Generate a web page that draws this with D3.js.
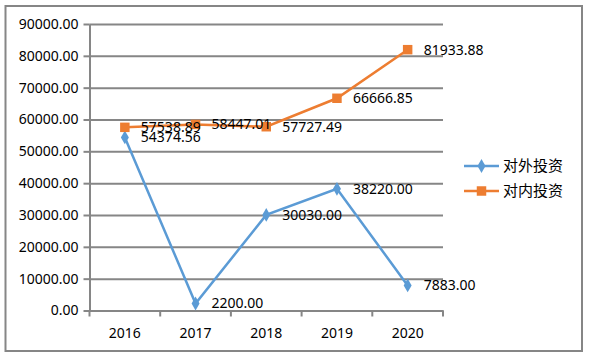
<!DOCTYPE html>
<html>
<head>
<meta charset="utf-8">
<script src="https://cdn.jsdelivr.net/npm/d3@7"></script>
<style>
  html, body { margin: 0; padding: 0; background: #fff; }
  svg { display: block; }
  text { font-family: "Noto Sans", "Liberation Sans", sans-serif; fill: #000; }
  .cjk { font-family: "Noto Sans CJK SC", sans-serif; }
</style>
</head>
<body>
<div id="chart"></div>
<script>
'use strict';

// ---- data ----
var years = ['2016', '2017', '2018', '2019', '2020'];
var outward = [54374.56, 2200.00, 30030.00, 38220.00, 7883.00];   // 对外投资
var inward  = [57538.89, 58447.01, 57727.49, 66666.85, 81933.88]; // 对内投资
var seriesNames = ['对外投资', '对内投资'];
var yTicks = [0, 10000, 20000, 30000, 40000, 50000, 60000, 70000, 80000, 90000];

var W = 589, H = 362;
var margin = { top: 24, right: 146, bottom: 51.5, left: 89.5 };
var blue = '#5b9bd5', orange = '#ed7d31', grid = '#868686';

var svg = d3.select('#chart').append('svg')
    .attr('width', W)
    .attr('height', H);

// outer frame
svg.append('rect')
    .attr('x', 5.5).attr('y', 6)
    .attr('width', 576.5).attr('height', 345)
    .attr('fill', 'none')
    .attr('stroke', grid)
    .attr('stroke-width', 2);

// title, almost entirely above the top edge
svg.append('text')
    .attr('class', 'cjk')
    .attr('x', 295).attr('y', -2)
    .attr('text-anchor', 'middle')
    .style('font-size', '18px')
    .text('2016-2020年对外投资与对内投资情况');

var x = d3.scaleBand()
    .domain(years)
    .range([margin.left, W - margin.right]);

var y = d3.scaleLinear()
    .domain([0, 90000])
    .range([H - margin.bottom, margin.top]);

// gridlines + y axis
var yAxis = svg.append('g')
    .attr('transform', 'translate(' + margin.left + ',0)')
    .call(d3.axisLeft(y)
        .tickValues(yTicks)
        .tickSize(6)
        .tickSizeOuter(0)
        .tickPadding(5)
        .tickFormat(function (d) { return d3.format('.2f')(d); }));
yAxis.select('.domain').attr('stroke', grid).attr('stroke-width', 2);
yAxis.selectAll('.tick line').attr('stroke', grid).attr('stroke-width', 2);
yAxis.selectAll('.tick text').style('font-size', '14px').attr('fill', '#000');
yAxis.selectAll('.tick').append('line')
    .attr('x1', 0)
    .attr('x2', W - margin.right - margin.left)
    .attr('stroke', grid)
    .attr('stroke-width', 2);

// x axis
var xAxis = svg.append('g')
    .attr('transform', 'translate(0,' + (H - margin.bottom) + ')')
    .call(d3.axisBottom(x).tickSize(0).tickPadding(18));
xAxis.select('.domain').attr('stroke', grid).attr('stroke-width', 2);
xAxis.selectAll('.tick text').style('font-size', '14px').attr('fill', '#000');
// ticks sit on the band boundaries
var bounds = years.map(function (d) { return x(d); }).concat([x.range()[1]]);
xAxis.selectAll('.bound').data(bounds).enter().append('line')
    .attr('x1', function (d) { return d; })
    .attr('x2', function (d) { return d; })
    .attr('y1', 0).attr('y2', 6)
    .attr('stroke', grid)
    .attr('stroke-width', 2);

var cx = function (d, i) { return x(years[i]) + x.bandwidth() / 2; };
var line = d3.line()
    .x(function (d, i) { return cx(d, i); })
    .y(function (d) { return y(d); });

function drawSeries(values, color, marker) {
    var g = svg.append('g');
    g.append('path')
        .datum(values)
        .attr('d', line)
        .attr('fill', 'none')
        .attr('stroke', color)
        .attr('stroke-width', 2.5);
    g.selectAll('.m').data(values).enter().append('path')
        .attr('transform', function (d, i) { return 'translate(' + cx(d, i) + ',' + y(d) + ')'; })
        .attr('d', marker)
        .attr('fill', color);
    g.selectAll('.lbl').data(values).enter().append('text')
        .attr('x', function (d, i) { return cx(d, i) + 16; })
        .attr('y', function (d) { return y(d); })
        .attr('dy', '0.35em')
        .style('font-size', '14px')
        .text(function (d) { return d3.format('.2f')(d); });
}

var diamond = d3.symbol().type(d3.symbolDiamond).size(55)();
var square = d3.symbol().type(d3.symbolSquare).size(90)();

drawSeries(outward, blue, diamond);
drawSeries(inward, orange, square);

// legend
var legend = svg.append('g').attr('transform', 'translate(464,0)');
var legendItems = [
    { name: seriesNames[0], color: blue, marker: diamond, y: 166 },
    { name: seriesNames[1], color: orange, marker: square, y: 191 }
];
legendItems.forEach(function (it) {
    legend.append('line')
        .attr('x1', 0).attr('x2', 35)
        .attr('y1', it.y).attr('y2', it.y)
        .attr('stroke', it.color)
        .attr('stroke-width', 2.5);
    legend.append('path')
        .attr('transform', 'translate(17.5,' + it.y + ')')
        .attr('d', it.marker)
        .attr('fill', it.color);
    legend.append('text')
        .attr('class', 'cjk')
        .attr('x', 39).attr('y', it.y)
        .attr('dy', '0.36em')
        .style('font-size', '15px')
        .text(it.name);
});
</script>
</body>
</html>
